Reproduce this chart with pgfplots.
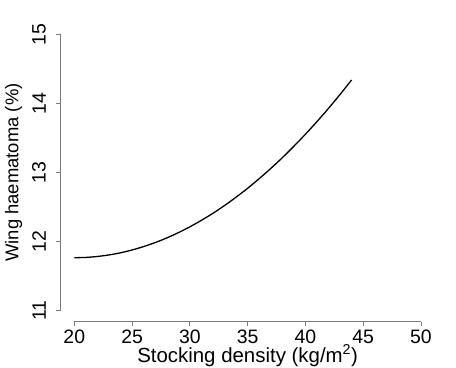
\documentclass[border=0pt]{standalone}
\usepackage{pgfplots}
\pgfplotsset{compat=1.18}
\usepackage{fontspec}
\setmainfont{Liberation Sans}
\definecolor{axgray}{HTML}{7A7A7A}
\begin{document}
\begin{tikzpicture}
\useasboundingbox (-60.43bp,-46.24bp) rectangle (395.57bp,321.76bp);
\begin{axis}[
  at={(0,0)}, anchor=south west,
  scale only axis, width=374.4bp, height=298.5bp,
  xmin=18.8, xmax=51.2, ymin=10.84, ymax=15.16,
  axis x line*=bottom, axis y line*=left,
  axis line style={draw=none},
  xtick={20,25,...,50}, ytick={11,12,...,15},
  tick align=outside, major tick length=4bp,
  tick style={draw=axgray, line width=0.9bp},
  /pgf/number format/assume math mode=true,
  ticklabel style={font=\fontsize{19.5}{22}\selectfont, text=black},
  yticklabel style={rotate=90, anchor=south, yshift=7bp},
  xticklabel style={yshift=-1bp},
  xlabel style={font=\fontsize{20.5}{23}\selectfont, yshift=6bp},
  ylabel style={font=\fontsize{18.5}{22}\selectfont, yshift=3bp},
  xlabel={Stocking density (kg/m\textsuperscript{2})},
  ylabel={Wing haematoma (\%)},
  clip=false,
]
\draw[axgray, line width=0.9bp] (axis cs:20,10.84) -- (axis cs:50,10.84);
\draw[axgray, line width=0.9bp] (axis cs:18.8,11) -- (axis cs:18.8,15);
\addplot[black, line width=1.3bp, smooth, no marks] coordinates {
(20,11.767) (21,11.771) (22,11.785) (23,11.807) (24,11.838) (25,11.879)
(26,11.928) (27,11.986) (28,12.053) (29,12.129) (30,12.214) (31,12.308)
(32,12.410) (33,12.522) (34,12.643) (35,12.772) (36,12.911) (37,13.058)
(38,13.214) (39,13.380) (40,13.554) (41,13.737) (42,13.929) (43,14.130)
(44,14.340)
};
\end{axis}
\end{tikzpicture}
\end{document}
